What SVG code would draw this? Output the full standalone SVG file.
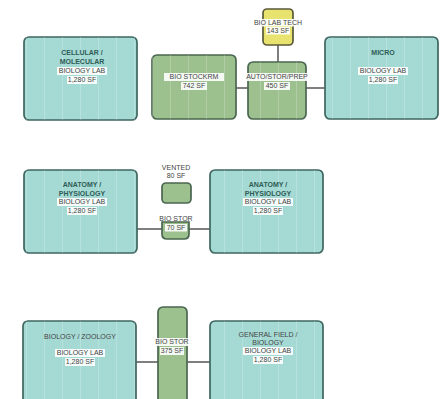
<svg xmlns="http://www.w3.org/2000/svg" width="442" height="399" viewBox="0 0 442 399">
<defs>
<pattern id="stripes" x="0" y="0" width="18" height="10" patternUnits="userSpaceOnUse">
<rect x="8" y="0" width="1" height="10" fill="#ffffff" opacity="0.2"/>
</pattern>
</defs>
<style>
.lab{fill:#a5dad4;stroke:#3e6660;stroke-width:1.7}
.grn{fill:#9dc08f;stroke:#4b6650;stroke-width:1.7}
.yel{fill:#e8e36e;stroke:#5a5a3a;stroke-width:1.7}
.str{fill:url(#stripes);stroke:none}
.con{stroke:#3a3a3a;stroke-width:1.3;fill:none}
text{font-family:"Liberation Sans",Arial,sans-serif;font-size:7px;text-anchor:middle}
.t1{fill:#2f5c56;font-weight:bold}
.t2{fill:#444}
.hl{fill:#ffffff;opacity:0.9}
</style>
<rect width="442" height="399" fill="#ffffff"/>
<g id="connectors">
<line class="con" x1="236" y1="88" x2="248" y2="88"/>
<line class="con" x1="306" y1="88" x2="325" y2="88"/>
<line class="con" x1="278" y1="45" x2="278" y2="62"/>
<line class="con" x1="137" y1="229" x2="162" y2="229"/>
<line class="con" x1="189" y1="229" x2="210" y2="229"/>
<line class="con" x1="136" y1="362" x2="158" y2="362"/>
<line class="con" x1="187" y1="362" x2="210" y2="362"/>
</g>
<g id="cellular">
<rect class="lab" x="24" y="37" width="113" height="83" rx="5"/>
<rect class="str" x="24" y="37" width="113" height="83"/>
<text class="t1" x="82" y="55">CELLULAR /</text>
<text class="t1" x="82" y="64">MOLECULAR</text>
<rect class="hl" x="57" y="67" width="50" height="8"/>
<text class="t2" x="82" y="73">BIOLOGY LAB</text>
<rect class="hl" x="67" y="76" width="30" height="8"/>
<text class="t2" x="82" y="82">1,280 SF</text>
</g>
<g id="stockrm">
<rect class="grn" x="152" y="55" width="84" height="64" rx="5"/>
<rect class="str" x="152" y="55" width="84" height="64"/>
<rect class="hl" x="164" y="73" width="60" height="8"/>
<text class="t2" x="194" y="79">BIO STOCKRM</text>
<rect class="hl" x="181" y="82" width="26" height="8"/>
<text class="t2" x="194" y="88">742 SF</text>
</g>
<g id="labtech">
<rect class="yel" x="263" y="9" width="30" height="36" rx="4"/>
<rect class="hl" x="251" y="19" width="54" height="7.5"/>
<text class="t2" x="278" y="25">BIO LAB TECH</text>
<rect class="hl" x="266" y="27" width="24" height="7.5"/>
<text class="t2" x="278" y="33">143 SF</text>
</g>
<g id="autostor">
<rect class="grn" x="248" y="62" width="58" height="57" rx="5"/>
<rect class="str" x="248" y="62" width="58" height="57"/>
<rect class="hl" x="242" y="73" width="70" height="8"/>
<text class="t2" x="277" y="79">AUTO/STOR/PREP</text>
<rect class="hl" x="264" y="82" width="26" height="8"/>
<text class="t2" x="277" y="88">450 SF</text>
</g>
<g id="micro">
<rect class="lab" x="325" y="37" width="113" height="82" rx="5"/>
<rect class="str" x="325" y="37" width="113" height="82"/>
<text class="t1" x="383" y="55">MICRO</text>
<rect class="hl" x="358" y="67" width="50" height="8"/>
<text class="t2" x="383" y="73">BIOLOGY LAB</text>
<rect class="hl" x="368" y="76" width="30" height="8"/>
<text class="t2" x="383" y="82">1,280 SF</text>
</g>
<g id="anatomy-left">
<rect class="lab" x="24" y="170" width="113" height="83" rx="5"/>
<rect class="str" x="24" y="170" width="113" height="83"/>
<text class="t1" x="82" y="187">ANATOMY /</text>
<text class="t1" x="82" y="195.5">PHYSIOLOGY</text>
<rect class="hl" x="57" y="198" width="50" height="8"/>
<text class="t2" x="82" y="204">BIOLOGY LAB</text>
<rect class="hl" x="67" y="207" width="30" height="8"/>
<text class="t2" x="82" y="213">1,280 SF</text>
</g>
<g id="vented">
<text class="t2" x="176" y="170">VENTED</text>
<text class="t2" x="176" y="178">80 SF</text>
<rect class="grn" x="162" y="183" width="29" height="20" rx="4"/>
</g>
<g id="biostor70">
<text class="t2" x="176" y="221">BIO STOR</text>
<path class="grn" d="M162,222 L189,222 L189,234 Q189,239 184,239 L167,239 Q162,239 162,234 Z"/>
<rect class="hl" x="165" y="224" width="22" height="7.5"/>
<text class="t2" x="176" y="230">70 SF</text>
</g>
<g id="anatomy-right">
<rect class="lab" x="210" y="170" width="113" height="83" rx="5"/>
<rect class="str" x="210" y="170" width="113" height="83"/>
<text class="t1" x="268" y="187">ANATOMY /</text>
<text class="t1" x="268" y="195.5">PHYSIOLOGY</text>
<rect class="hl" x="243" y="198" width="50" height="8"/>
<text class="t2" x="268" y="204">BIOLOGY LAB</text>
<rect class="hl" x="253" y="207" width="30" height="8"/>
<text class="t2" x="268" y="213">1,280 SF</text>
</g>
<g id="zoology">
<rect class="lab" x="23" y="321" width="113" height="95" rx="5"/>
<rect class="str" x="23" y="321" width="113" height="95"/>
<text class="t2" x="80" y="339">BIOLOGY / ZOOLOGY</text>
<rect class="hl" x="55" y="349" width="50" height="8"/>
<text class="t2" x="80" y="355">BIOLOGY LAB</text>
<rect class="hl" x="65" y="358" width="30" height="8"/>
<text class="t2" x="80" y="364">1,280 SF</text>
</g>
<g id="biostor375">
<rect class="grn" x="158" y="307" width="29" height="110" rx="5"/>
<rect class="hl" x="153" y="338" width="40" height="8"/>
<text class="t2" x="172" y="344">BIO STOR</text>
<rect class="hl" x="160" y="347" width="24" height="8"/>
<text class="t2" x="172" y="353">375 SF</text>
</g>
<g id="general">
<rect class="lab" x="210" y="321" width="113" height="95" rx="5"/>
<rect class="str" x="210" y="321" width="113" height="95"/>
<text class="t2" x="268" y="337">GENERAL FIELD /</text>
<text class="t2" x="268" y="345">BIOLOGY</text>
<rect class="hl" x="243" y="347" width="50" height="8"/>
<text class="t2" x="268" y="353">BIOLOGY LAB</text>
<rect class="hl" x="253" y="356" width="30" height="8"/>
<text class="t2" x="268" y="362">1,280 SF</text>
</g>
</svg>
